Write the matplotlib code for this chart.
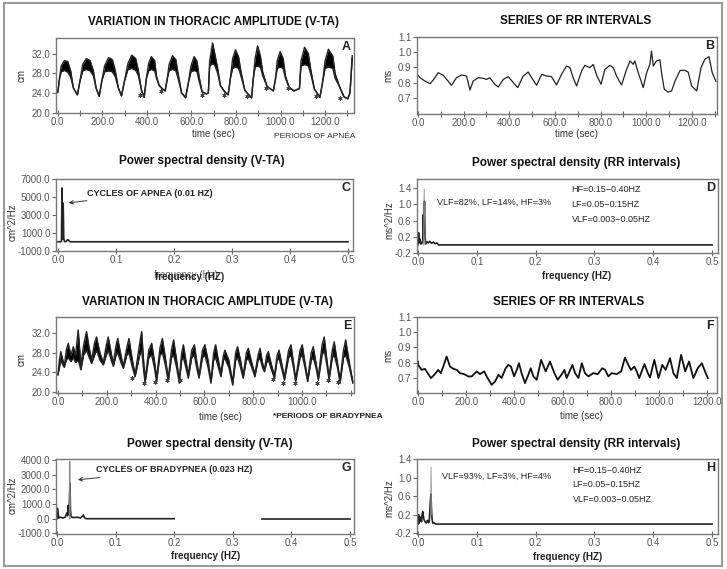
import matplotlib
matplotlib.use('Agg')
import matplotlib.pyplot as plt
from matplotlib.patches import Rectangle

W, H = 727, 569
NARROW = ['Liberation Sans Narrow', 'Liberation Sans', 'DejaVu Sans']
SANS = ['Liberation Sans', 'DejaVu Sans']

# ---- panel A: thoracic amplitude, apnea (time, lower edge, upper edge of the noisy band)
a_t = [0, 8, 15, 30, 45, 58, 70, 88,
       100, 112, 128, 145, 160, 172, 186,
       198, 210, 228, 245, 258, 272, 286,
       300, 315, 332, 350, 362, 376, 388,
       398, 408, 420, 435, 443, 455, 470, 482,
       492, 500, 515, 530, 540, 556, 574,
       588, 598, 612, 625, 634, 648, 668,
       676, 682, 695, 705, 718, 730, 748, 765,
       775, 785, 798, 812, 822, 840, 870,
       878, 886, 897, 910, 920, 940, 968,
       978, 985, 998, 1012, 1022, 1038, 1060, 1085,
       1092, 1108, 1125, 1135, 1152, 1177,
       1190, 1200, 1215, 1235, 1245, 1265, 1285, 1302, 1312, 1322]
a_lo = [24.1, 27.0, 28.3, 28.6, 28.2, 27.2, 25.0, 23.6,
        26.5, 28.5, 28.8, 28.5, 27.5, 25.0, 23.3,
        26.5, 28.3, 28.5, 28.3, 27.3, 25.0, 23.4,
        26.5, 28.8, 29.0, 28.6, 27.5, 24.5, 23.1,
        27.0, 28.5, 28.8, 28.5, 27.0, 25.5, 24.8, 24.4,
        27.0, 28.6, 28.8, 28.5, 27.0, 24.0, 23.0,
        26.5, 28.3, 28.6, 28.3, 26.5, 24.2, 23.8,
        24.0, 29.5, 30.0, 29.6, 28.0, 25.5, 24.3, 23.6,
        27.0, 29.0, 29.3, 29.0, 27.5, 24.5, 23.0,
        27.0, 29.3, 29.5, 29.2, 27.5, 25.3, 24.4,
        27.0, 29.0, 29.3, 29.0, 27.0, 25.2, 24.4, 24.9,
        29.5, 29.8, 29.5, 28.0, 24.8, 23.1,
        26.5, 29.0, 29.3, 29.0, 27.0, 25.3, 23.2, 22.8, 24.0, 31.0]
a_hi = [24.1, 27.0, 29.5, 30.6, 30.4, 28.5, 25.0, 23.6,
        26.5, 29.8, 31.0, 30.6, 28.5, 25.0, 23.3,
        26.5, 29.5, 31.2, 30.8, 28.6, 25.0, 23.4,
        26.5, 30.0, 31.7, 31.0, 28.5, 24.5, 23.1,
        27.0, 30.0, 31.4, 30.6, 27.5, 25.5, 24.8, 24.4,
        27.0, 29.8, 31.6, 30.8, 28.0, 24.0, 23.0,
        26.5, 29.5, 31.4, 30.5, 27.5, 24.2, 23.8,
        24.0, 30.5, 34.2, 32.0, 29.0, 25.5, 24.3, 23.6,
        27.0, 31.0, 32.8, 31.3, 28.5, 24.5, 23.0,
        27.0, 31.0, 33.6, 31.5, 28.3, 25.3, 24.4,
        27.0, 30.5, 32.4, 31.0, 27.5, 25.2, 24.4, 24.9,
        30.5, 33.3, 32.0, 29.0, 24.8, 23.1,
        26.5, 30.5, 32.9, 31.5, 28.0, 25.3, 23.2, 22.8, 24.0, 31.6]
a_star_t = [368, 462, 647, 746, 848, 934, 1035, 1160, 1267]
a_star_v = [23.65, 24.3, 23.65, 23.65, 23.45, 24.9, 24.9, 23.45, 23.0]

# ---- panel B: RR intervals (apnea)
b_t = [0, 9, 31, 53, 67, 89, 111, 126, 147, 169, 191, 213, 228, 242, 264, 286, 301, 315,
       337, 352, 374, 396, 418, 437, 461, 483, 498, 520, 542, 564, 585, 607, 629, 651,
       666, 680, 695, 717, 731, 753, 768, 783, 802, 819, 841, 856, 870, 892, 914, 929,
       943, 950, 965, 987, 1002, 1016, 1023, 1031, 1045, 1060, 1067, 1079, 1096, 1111,
       1126, 1148, 1169, 1184, 1199, 1221, 1240, 1257, 1275, 1289, 1305]
b_v = [0.849, 0.833, 0.811, 0.794, 0.818, 0.866, 0.849, 0.822, 0.783, 0.833, 0.851, 0.844,
       0.752, 0.811, 0.833, 0.829, 0.822, 0.833, 0.790, 0.772, 0.822, 0.840, 0.800, 0.768,
       0.844, 0.870, 0.833, 0.783, 0.855, 0.844, 0.840, 0.785, 0.855, 0.910, 0.899, 0.833,
       0.779, 0.877, 0.914, 0.899, 0.920, 0.849, 0.790, 0.888, 0.914, 0.899, 0.844, 0.785,
       0.888, 0.943, 0.921, 0.943, 0.866, 0.768, 0.866, 0.921, 1.008, 0.910, 0.943, 0.950,
       0.866, 0.757, 0.739, 0.746, 0.811, 0.880, 0.882, 0.869, 0.779, 0.746, 0.899, 0.954,
       0.971, 0.866, 0.810]

# ---- panel C: PSD of V-TA (apnea)
c_f = [0.0, 0.004, 0.006, 0.007, 0.008, 0.009, 0.010, 0.011, 0.013, 0.015, 0.017, 0.019, 0.021, 0.5]
c_p = [0, 0, 50, 6000, 300, 4300, 400, 50, 0, 100, 250, 100, 0, 0]

# ---- panel D: PSD of RR (apnea)
d_f = [0.0, 0.001, 0.002, 0.003, 0.005, 0.007, 0.008, 0.009, 0.010, 0.011, 0.012, 0.013,
       0.015, 0.018, 0.020, 0.023, 0.026, 0.029, 0.032, 0.035, 0.5]
d_p = [0.0, 0.30, 0.05, 0.15, 0.02, 0.05, 0.10, 0.75, 0.30, 1.08, 0.20, 0.02, 0.08, 0.05,
       0.09, 0.04, 0.07, 0.03, 0.05, 0.0, 0.0]
d_peak_f = [0.009, 0.0105, 0.012]
d_peak_p = [0.0, 1.38, 0.0]

# ---- panel E: thoracic amplitude, bradypnea
e_t = [0, 6, 12, 20, 26, 34, 42, 53, 63, 72, 83, 94, 105, 117, 128, 138, 150, 158, 172, 186,
       198, 206, 218, 227, 238, 245, 258, 268, 282, 291, 305, 316, 335, 343, 350, 357, 372,
       384, 395, 404, 418, 428, 440, 452, 465, 474, 486, 497, 507, 514, 524, 534, 548, 559,
       568, 578, 592, 602, 615, 627, 638, 646, 657, 668, 678, 684, 700, 716, 728, 736, 748,
       759, 772, 780, 794, 807, 820, 828, 838, 846, 855, 862, 875, 887, 898, 906, 918, 928,
       945, 955, 965, 974, 992, 1001, 1012, 1023, 1038, 1046, 1057, 1067, 1082, 1091, 1102,
       1111, 1124, 1132, 1145, 1156, 1170, 1179, 1194, 1208]
e_lo = [23.5, 25.0, 26.5, 25.5, 25.0, 26.5, 27.0, 26.2, 27.0, 26.0, 26.5, 24.5, 27.5, 28.5,
        27.0, 25.8, 27.5, 28.5, 26.5, 25.5, 27.5, 28.5, 26.5, 25.2, 27.5, 28.0, 26.0, 24.8,
        27.5, 28.0, 25.0, 23.1, 27.5, 28.5, 25.0, 21.8, 27.0, 27.5, 25.0, 22.1, 27.5, 28.0,
        25.5, 22.1, 27.0, 27.5, 25.0, 21.8, 26.5, 27.0, 25.0, 22.8, 27.0, 27.5, 25.0, 22.8,
        27.0, 27.5, 25.0, 21.8, 26.5, 27.0, 25.0, 23.1, 26.5, 26.8, 25.0, 21.4, 26.5, 27.0,
        25.0, 22.8, 26.5, 26.8, 25.0, 23.1, 26.5, 26.8, 25.0, 24.1, 26.0, 26.5, 24.5, 22.8,
        26.5, 26.8, 24.5, 22.4, 27.0, 27.5, 25.0, 22.1, 27.0, 27.5, 25.0, 22.1, 26.5, 27.0,
        25.0, 22.4, 27.5, 28.5, 25.5, 22.4, 27.0, 27.5, 25.0, 21.8, 27.0, 27.5, 25.0, 21.8]
e_hi = [23.5, 26.5, 28.2, 26.5, 25.2, 28.5, 29.9, 27.5, 29.2, 27.5, 32.6, 25.5, 29.5, 32.3,
        29.0, 26.5, 30.0, 31.2, 28.0, 26.0, 29.5, 31.2, 28.0, 25.8, 29.5, 30.9, 27.5, 25.2,
        29.0, 30.9, 26.5, 23.5, 30.0, 32.3, 27.0, 22.5, 28.5, 29.9, 26.5, 22.8, 29.0, 30.9,
        27.0, 22.8, 28.5, 30.6, 26.5, 22.5, 28.0, 29.6, 26.5, 23.5, 28.5, 29.6, 26.5, 23.3,
        28.5, 29.6, 26.5, 22.3, 28.0, 29.6, 26.5, 23.8, 27.5, 28.5, 26.5, 22.0, 28.0, 29.2,
        26.5, 23.3, 28.0, 28.9, 26.0, 23.6, 27.5, 28.9, 26.0, 24.5, 27.5, 28.2, 25.5, 23.3,
        27.5, 28.5, 25.5, 23.0, 28.5, 29.6, 26.0, 22.6, 28.5, 29.6, 26.0, 22.6, 28.0, 29.2,
        26.0, 23.0, 29.5, 31.2, 26.5, 23.0, 28.5, 30.2, 26.0, 22.4, 28.5, 30.6, 26.0, 22.2]
e_star_t = [302, 352, 398, 445, 500, 883, 923, 971, 1060, 1108, 1149]
e_star_v = [22.9, 21.9, 22.05, 22.5, 22.5, 22.6, 21.9, 21.9, 21.9, 22.5, 22.05]

# ---- panel F: RR intervals (bradypnea)
f_t = [0, 1, 15, 29, 43, 54, 68, 84, 95, 105, 119, 133, 147, 161, 174, 192, 209, 223, 244,
       257, 275, 285, 306, 320, 334, 347, 364, 375, 386, 399, 410, 419, 430, 444, 458, 468,
       479, 493, 511, 530, 548, 566, 580, 597, 608, 617, 641, 652, 666, 680, 693, 707, 728,
       746, 765, 777, 790, 804, 825, 843, 859, 873, 884, 898, 908, 918, 940, 954, 963, 981,
       998, 1014, 1028, 1046, 1060, 1074, 1092, 1109, 1125, 1143, 1161, 1178, 1194, 1203]
f_v = [0.807, 0.785, 0.752, 0.759, 0.724, 0.698, 0.720, 0.752, 0.731, 0.774, 0.840, 0.774,
       0.759, 0.752, 0.731, 0.724, 0.709, 0.709, 0.742, 0.724, 0.742, 0.709, 0.654, 0.676,
       0.720, 0.698, 0.763, 0.785, 0.774, 0.709, 0.752, 0.796, 0.731, 0.665, 0.720, 0.763,
       0.709, 0.687, 0.818, 0.742, 0.807, 0.731, 0.687, 0.724, 0.752, 0.698, 0.785, 0.731,
       0.698, 0.796, 0.731, 0.709, 0.731, 0.724, 0.763, 0.752, 0.709, 0.731, 0.724, 0.742,
       0.833, 0.785, 0.752, 0.774, 0.742, 0.698, 0.790, 0.731, 0.702, 0.818, 0.698, 0.785,
       0.752, 0.829, 0.731, 0.698, 0.851, 0.742, 0.807, 0.698, 0.763, 0.796, 0.731, 0.698]

# ---- panel G: PSD of V-TA (bradypnea), gap between 0.2 and 0.35
g_f = [0.0, 0.001, 0.003, 0.006, 0.010, 0.014, 0.017, 0.018, 0.019, 0.020, 0.021, 0.022,
       0.023, 0.024, 0.026, 0.030, 0.035, 0.040, 0.043, 0.045, 0.047, 0.050, 0.2]
g_p = [0, 700, 50, 100, 50, 100, 400, 200, 900, 300, 1000, 2400, 600, 150, 100, 80, 100,
       50, 150, 250, 60, 0, 0]
g_f2 = [0.35, 0.5]
g_p2 = [0, 0]
g_peak_f = [0.0215, 0.022, 0.0225]
g_peak_p = [0, 3900, 0]

# ---- panel H: PSD of RR (bradypnea)
h_f = [0.0, 0.001, 0.002, 0.004, 0.006, 0.007, 0.008, 0.010, 0.012, 0.014, 0.016, 0.018,
       0.019, 0.020, 0.021, 0.022, 0.023, 0.024, 0.025, 0.027, 0.030, 0.5]
h_p = [0.0, 0.20, 0.02, 0.15, 0.05, 0.20, 0.27, 0.10, 0.05, 0.02, 0.08, 0.03, 0.05, 0.25,
       0.50, 0.65, 0.30, 0.10, 0.02, 0.03, 0.0, 0.0]
h_peak_f = [0.0215, 0.0222, 0.0230]
h_peak_p = [0.2, 1.23, 0.2]

time_ticks = [0, 200, 400, 600, 800, 1000, 1200]
freq_ticks = [0.0, 0.1, 0.2, 0.3, 0.4, 0.5]


def box(l, t, r, b):
    return [l / W, 1 - b / H, (r - l) / W, (b - t) / H]


def ftext(x, y, s, **kw):
    fig.text(x / W, 1 - y / H, s, **kw)


def style(ax, xlim, ylim, xt, yt, xminor=None):
    ax.set_xlim(xlim)
    ax.set_ylim(ylim)
    ax.set_xticks(xt)
    ax.set_xticklabels(['%.1f' % v for v in xt])
    if xminor is not None:
        ax.set_xticks(xminor, minor=True)
    ax.set_yticks(yt)
    ax.set_yticklabels(['%.1f' % v for v in yt])
    ax.tick_params(axis='both', which='both', labelsize=7, labelcolor='#555',
                   color='#666', width=0.8)
    ax.tick_params(axis='x', which='both', direction='inout', length=5, pad=0.5)
    ax.tick_params(axis='y', direction='out', length=3, pad=1)
    for lab in ax.get_xticklabels() + ax.get_yticklabels():
        lab.set_family(NARROW)
    for sp in ax.spines.values():
        sp.set_color('#777')
        sp.set_linewidth(1.0)


def letter(ax, s):
    ax.text(0.99, 0.88, s, transform=ax.transAxes, ha='right', va='center',
            fontsize=9, fontweight='bold', family=NARROW, color='#222')


def band(ax, t, lo, hi):
    ax.fill_between(t, lo, hi, color='black', lw=0)
    ax.plot(t, lo, color='#222', lw=1.0)
    ax.plot(t, hi, color='#222', lw=1.0)


fig = plt.figure(figsize=(W / 100, H / 100), dpi=100)
fig.patches.append(Rectangle((4 / W, 1 - 566 / H), 718 / W, 563 / H, transform=fig.transFigure,
                             fill=False, edgecolor='#999', linewidth=1.5))

minor100 = [100, 300, 500, 700, 900, 1100, 1300]

# A
ax = fig.add_axes(box(56, 38, 354, 113))
band(ax, a_t, a_lo, a_hi)
ax.plot(a_star_t, a_star_v, ls='none', marker=(6, 2, 0), ms=3, color='#444', mew=0.6)
style(ax, (-8, 1330), (19.9, 35.2), time_ticks, [20, 24, 28, 32], minor100)
letter(ax, 'A')

# B
ax = fig.add_axes(box(417, 37, 717, 114))
ax.plot(b_t, b_v, color='#222', lw=0.9)
style(ax, (-4, 1310), (0.595, 1.1), time_ticks, [0.7, 0.8, 0.9, 1.0, 1.1], minor100)
letter(ax, 'B')

# C
ax = fig.add_axes(box(56, 179, 353, 251))
ax.plot(c_f, c_p, color='#222', lw=1.2)
style(ax, (-0.0034, 0.5086), (-1030, 7000), freq_ticks, [-1000, 1000, 3000, 5000, 7000])
ax.annotate('CYCLES OF APNEA (0.01 HZ)', xy=(0.0138, 4300), xytext=(0.05, 5430),
            fontsize=6.5, fontweight='bold', family=NARROW, va='center', color='#222',
            arrowprops=dict(arrowstyle='->', color='#333', lw=0.7))
letter(ax, 'C')

# D
ax = fig.add_axes(box(417, 179, 718, 253))
ax.plot(d_f, d_p, color='#222', lw=1.2)
ax.plot(d_peak_f, d_peak_p, color='#888', lw=0.6)
style(ax, (-0.0017, 0.51), (-0.2, 1.63), freq_ticks, [-0.2, 0.2, 0.6, 1.0, 1.4])
ax.text(0.033, 1.05, 'VLF=82%, LF=14%, HF=3%', fontsize=6.5, family=NARROW, color='#222', va='center')
ax.text(0.261, 1.36, 'HF=0.15\u22120.40HZ', fontsize=6.5, family=NARROW, color='#222', va='center')
ax.text(0.261, 1.01, 'LF=0.05\u22120.15HZ', fontsize=6.5, family=NARROW, color='#222', va='center')
ax.text(0.261, 0.64, 'VLF=0.003\u22120.05HZ', fontsize=6.5, family=NARROW, color='#222', va='center')
letter(ax, 'D')

# E
ax = fig.add_axes(box(56, 317, 354, 393))
band(ax, e_t, e_lo, e_hi)
ax.plot(e_star_t, e_star_v, ls='none', marker=(6, 2, 0), ms=3, color='#444', mew=0.6)
style(ax, (-8, 1213), (19.8, 35.25), time_ticks[:6], [20, 24, 28, 32],
      [100, 300, 500, 700, 900, 1100, 1200])
letter(ax, 'E')

# F
ax = fig.add_axes(box(417, 317, 717, 393))
ax.plot(f_t, f_v, color='#111', lw=1.3)
style(ax, (-4, 1241), (0.6, 1.1), time_ticks, [0.7, 0.8, 0.9, 1.0, 1.1],
      [100, 300, 500, 700, 900, 1100])
letter(ax, 'F')

# G
ax = fig.add_axes(box(56, 459, 354, 534))
ax.plot(g_f, g_p, color='#222', lw=1.2)
ax.plot(g_f2, g_p2, color='#222', lw=1.2)
ax.plot(g_peak_f, g_peak_p, color='#888', lw=0.6)
style(ax, (-0.0017, 0.5068), (-1040, 4060), freq_ticks, [-1000, 0, 1000, 2000, 3000, 4000])
ax.annotate('CYCLES OF BRADYPNEA (0.023 HZ)', xy=(0.031, 2630), xytext=(0.0666, 3315),
            fontsize=6.5, fontweight='bold', family=NARROW, va='center', color='#222',
            arrowprops=dict(arrowstyle='->', color='#333', lw=0.7))
letter(ax, 'G')

# H
ax = fig.add_axes(box(417, 459, 718, 534))
ax.plot(h_f, h_p, color='#222', lw=1.2)
ax.plot(h_peak_f, h_peak_p, color='#888', lw=0.6)
style(ax, (-0.0017, 0.51), (-0.215, 1.405), freq_ticks, [-0.2, 0.2, 0.6, 1.0, 1.4])
ax.text(0.041, 1.03, 'VLF=93%, LF=3%, HF=4%', fontsize=6.5, family=NARROW, color='#222', va='center')
ax.text(0.263, 1.16, 'HF=0.15\u22120.40HZ', fontsize=6.5, family=NARROW, color='#222', va='center')
ax.text(0.263, 0.86, 'LF=0.05\u22120.15HZ', fontsize=6.5, family=NARROW, color='#222', va='center')
ax.text(0.263, 0.54, 'VLF=0.003\u22120.05HZ', fontsize=6.5, family=NARROW, color='#222', va='center')
letter(ax, 'H')

# titles
tkw = dict(ha='center', va='center', fontsize=8.5, fontweight='bold', family=SANS, color='#111')
ftext(214, 22, 'VARIATION IN THORACIC AMPLITUDE (V-TA)', **tkw)
ftext(576, 21, 'SERIES OF RR INTERVALS', **tkw)
ftext(202, 161, 'Power spectral density (V-TA)', **tkw)
ftext(576, 163, 'Power spectral density (RR intervals)', **tkw)
ftext(207, 302, 'VARIATION IN THORACIC AMPLITUDE (V-TA)', **tkw)
ftext(569, 302, 'SERIES OF RR INTERVALS', **tkw)
ftext(210, 444, 'Power spectral density (V-TA)', **tkw)
ftext(576, 444, 'Power spectral density (RR intervals)', **tkw)

# axis labels
lkw = dict(ha='center', va='center', fontsize=7, family=SANS, color='#333')
ftext(22, 75, 'cm', rotation=90, **lkw)
ftext(388, 75, 'ms', rotation=90, **lkw)
ftext(13, 222, 'cm^2/Hz', rotation=90, **lkw)
ftext(389, 220, 'ms^2/Hz', rotation=90, **lkw)
ftext(22, 360, 'cm', rotation=90, **lkw)
ftext(388, 355, 'ms', rotation=90, **lkw)
ftext(13, 495, 'cm^2/Hz', rotation=90, **lkw)
ftext(389, 498, 'ms^2/Hz', rotation=90, **lkw)

ftext(213, 134, 'time (sec)', **lkw)
ftext(576, 134, 'time (sec)', **lkw)
ftext(315, 137, 'PERIODS OF APN\u00c9A', ha='center', va='center', fontsize=6, family=SANS, color='#333')
ftext(220, 417, 'time (sec)', **lkw)
ftext(328, 417, '*PERIODS OF BRADYPNEA', ha='center', va='center', fontsize=6,
      fontweight='bold', family=SANS, color='#222')
ftext(581, 416, 'time (sec)', **lkw)

# panel C's axis label is printed twice, one over the other, as in the source figure
bkw = dict(ha='center', va='center', fontsize=7, fontweight='bold', family=SANS, color='#222')
ftext(186, 275, 'frequency (Hz)', ha='center', va='center', fontsize=7, family=SANS, color='#666')
ftext(190, 277, 'frequency (HZ)', **bkw)
ftext(577, 276, 'frequency (HZ)', **bkw)
ftext(206, 556, 'frequency (HZ)', **bkw)
ftext(568, 557, 'frequency (HZ)', **bkw)

fig.savefig('out.png', dpi=100)
